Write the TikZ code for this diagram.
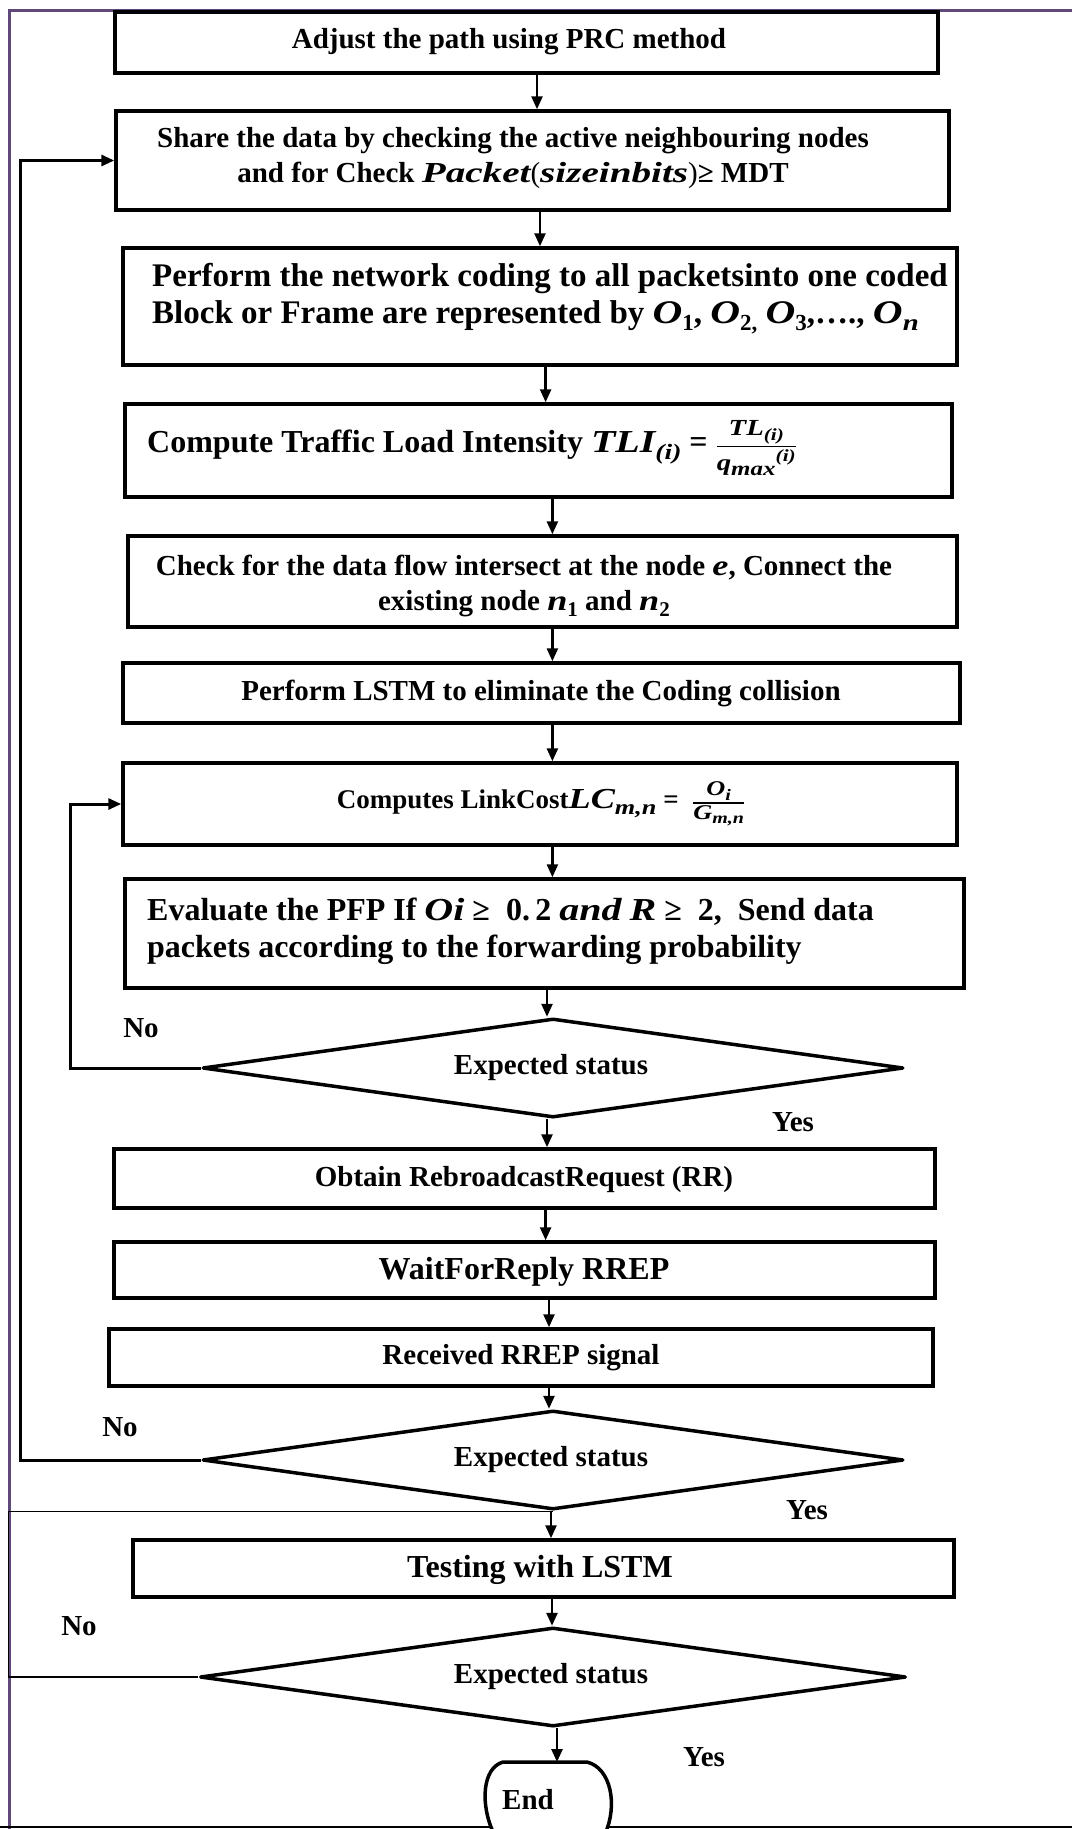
\documentclass[tikz,border=0pt]{standalone}
\usepackage{amsmath}
\usepackage{graphicx}
\usepackage{fontspec}
\setmainfont{Liberation Serif}
\usetikzlibrary{shapes.geometric,arrows.meta}
\definecolor{framepurple}{HTML}{5F497A}
\newcommand{\mi}[1]{\scalebox{1.25}[1]{\bfseries\itshape #1}}
\newcommand{\sbs}[2]{\raisebox{-0.22em}{\fontsize{#1}{#1}\selectfont #2}}
\newcommand{\sps}[2]{\raisebox{0.42em}{\fontsize{#1}{#1}\selectfont #2}}
\newcommand{\ffrac}[2]{$\genfrac{}{}{1.8pt}{1}{\mbox{#1}}{\mbox{#2}}$}
\begin{document}
\begin{tikzpicture}[x=1pt,y=-1pt,
  box/.style={draw, line width=3.5pt, rectangle, inner sep=0pt, fill=white},
  dia/.style={draw, diamond, line width=3.5pt, inner sep=0pt, aspect=7, line join=round, fill=white},
  txt/.style={font=\fontsize{29}{35}\selectfont\bfseries, inner sep=0pt, align=center},
  big/.style={font=\fontsize{32}{38}\selectfont\bfseries},
  arr/.style={line width=2.5pt, -{Triangle[length=13pt,width=11pt]}},
  loopline/.style={line width=3pt, -{Triangle[length=13pt,width=11pt]}},
  thinline/.style={line width=1.4pt}]
\useasboundingbox (0,0) rectangle (1072,1829);
\fill[white] (0,0) rectangle (1072,1829);
% frame
\draw[framepurple, line width=3pt] (1072,10) -- (9,10) -- (9,1829);
\draw[black, line width=2.2pt] (0,1827) -- (1072,1827);

% boxes
\node[box, minimum width=823pt, minimum height=61pt] (b1) at (526.5,42.5) {};
\node[box, minimum width=833pt, minimum height=99pt] (b2) at (532.5,160.5) {};
\node[box, minimum width=834pt, minimum height=117pt] (b3) at (540,306.5) {};
\node[box, minimum width=827pt, minimum height=93pt] (b4) at (538.5,450.5) {};
\node[box, minimum width=829pt, minimum height=91pt] (b5) at (542.5,581.5) {};
\node[box, minimum width=837pt, minimum height=60pt] (b6) at (541.5,693) {};
\node[box, minimum width=834pt, minimum height=82pt] (b7) at (540,804) {};
\node[box, minimum width=839pt, minimum height=109pt] (b8) at (544.5,933.5) {};
\node[dia, minimum width=701pt, minimum height=99pt] (d1) at (553,1068) {};
\node[box, minimum width=821pt, minimum height=59pt] (b9) at (524.5,1178.5) {};
\node[box, minimum width=821pt, minimum height=56pt] (b10) at (524.5,1270) {};
\node[box, minimum width=824pt, minimum height=57pt] (b11) at (521,1357.5) {};
\node[dia, minimum width=701pt, minimum height=99pt] (d2) at (553,1460) {};
\node[box, minimum width=821pt, minimum height=57pt] (b12) at (543.5,1568.5) {};
\node[dia, minimum width=706pt, minimum height=99pt] (d3) at (553,1677) {};

% End terminator
\draw[line width=3.5pt, fill=white] (494,1834) .. controls (480,1805) and (482,1768) .. (503,1762)
  -- (587,1762) .. controls (611,1768) and (618,1805) .. (605,1834);
\coordinate (endtop) at (557,1762);

% texts
\node[txt] (t1) at (509,42) {Adjust the path using PRC method};
\node[txt] (t2) at (513,158) {Share the data by checking the active neighbouring nodes\\
  and for Check \scalebox{1.35}[1]{\itshape Packet}{\mdseries(}\scalebox{1.35}[1]{\itshape sizeinbits}{\mdseries)}≥ MDT};
\node[txt, font=\fontsize{33}{37}\selectfont\bfseries, align=left, anchor=west] (t3) at (152,299) {Perform the network coding to all packetsinto one coded\\
  Block or Frame are represented by \mi{O}\sbs{23}{1}, \mi{O}\sbs{23}{2,} \mi{O}\sbs{23}{3},…., \mi{O}\sbs{23}{\mi{n}}};
\node[txt, big, anchor=west] (t4) at (147,448) {Compute Traffic Load Intensity \mi{TLI}\sbs{22}{\mi{(i)}} = \ffrac{\fontsize{23}{23}\selectfont\mi{TL}\sbs{17}{\mi{(i)}}}{\fontsize{23}{23}\selectfont\mi{q}\sbs{20}{\mi{max}}\sps{17}{\mi{(i)}}}};
\node[txt] (t5) at (524,586) {Check for the data flow intersect at the node \mi{e}, Connect the\\
  existing node \mi{n}\sbs{21}{1} and \mi{n}\sbs{21}{2}};
\node[txt] (t6) at (541,693) {Perform LSTM to eliminate the Coding collision};
\node[txt, font=\fontsize{27}{32}\selectfont\bfseries] (t7) at (541,804) {Computes LinkCost{\fontsize{29}{29}\selectfont\mi{LC}}\sbs{21}{\mi{m,n}} = \ \ffrac{\fontsize{21}{21}\selectfont\mi{O}\sbs{16}{\mi{i}}}{\fontsize{21}{21}\selectfont\mi{G}\sbs{16}{\mi{m,n}}}};
\node[txt, font=\fontsize{32}{37}\selectfont\bfseries, align=left, anchor=west] (t8) at (147,931)
  {Evaluate the PFP If \mi{Oi} ≥\ \ 0.\,2 \mi{and} \mi{R} ≥\ \ 2,\ \ Send data\\
   packets according to the forwarding probability};
\node[txt] (t9) at (524,1180) {Obtain RebroadcastRequest (RR)};
\node[txt, big] (t10) at (524,1272) {WaitForReply RREP};
\node[txt] (t11) at (521,1358) {Received RREP signal};
\node[txt, big] (t12) at (540,1570) {Testing with LSTM};
\node[txt] (td1) at (551,1068) {Expected status};
\node[txt] (td2) at (551,1460) {Expected status};
\node[txt] (td3) at (551,1677) {Expected status};
\node[txt] (tend) at (528,1800) {End};

% labels
\node[txt] (no1) at (141,1028) {No};
\node[txt] (yes1) at (793,1122) {Yes};
\node[txt] (no2) at (120,1427) {No};
\node[txt] (yes2) at (807,1510) {Yes};
\node[txt] (no3) at (79,1626) {No};
\node[txt] (yes3) at (704,1757) {Yes};

% arrows
\draw[arr] ([xshift=10.5pt]b1.south) -- ([xshift=4.5pt]b2.north);
\draw[arr] ([xshift=7.5pt]b2.south) -- ([xshift=0pt]b3.north);
\draw[arr] ([xshift=5.6pt]b3.south) -- ([xshift=7.1pt]b4.north);
\draw[arr] ([xshift=13.9pt]b4.south) -- ([xshift=9.9pt]b5.north);
\draw[arr] ([xshift=9.9pt]b5.south) -- ([xshift=10.9pt]b6.north);
\draw[arr] ([xshift=10.9pt]b6.south) -- ([xshift=12.4pt]b7.north);
\draw[arr] ([xshift=12.4pt]b7.south) -- ([xshift=7.9pt]b8.north);
\draw[arr] ([xshift=2.5pt]b8.south) -- ([xshift=-6pt]d1.north);
\draw[arr] ([xshift=-6pt]d1.south) -- ([xshift=22.5pt]b9.north);
\draw[arr] ([xshift=21.1pt]b9.south) -- ([xshift=21.1pt]b10.north);
\draw[arr] ([xshift=24.5pt]b10.south) -- ([xshift=28pt]b11.north);
\draw[arr] ([xshift=28pt]b11.south) -- ([xshift=-4pt]d2.north);
\draw[arr] ([xshift=-2pt]d2.south) -- ([xshift=7.5pt]b12.north);
\draw[arr] ([xshift=8.5pt]b12.south) -- ([xshift=-1pt]d3.north);
\draw[arr] ([xshift=4pt]d3.south) -- (endtop);

% loops
\draw[loopline] (d1.west) -- ++(-130,0) |- (b7.west);
\draw[loopline] (d2.west) -- ++(-180,0) |- (b2.west);
\draw[thinline] (d3.west) -- ++(-190,0) |- (d2.south);
\end{tikzpicture}
\end{document}
